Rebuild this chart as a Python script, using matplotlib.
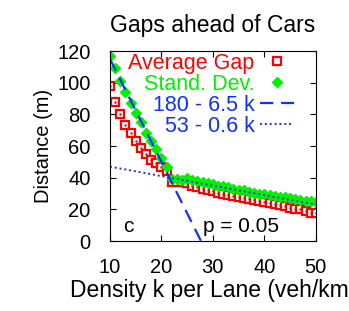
import numpy as np
import matplotlib
matplotlib.use("Agg")
import matplotlib.pyplot as plt

plt.rcParams['font.family'] = ['Liberation Sans', 'DejaVu Sans']

# density k per lane (veh/km)
density = np.arange(10, 51)

avg_gap = [98, 88, 80, 73, 68, 63, 59, 55, 51, 49, 47, 44, 37,
           37, 37, 36.5, 35, 34, 33, 32.5, 31.5, 30.5, 30, 29, 28.5,
           28, 27, 26.5, 26, 25, 24.5, 24, 23.5, 22.5, 22, 21, 20.5,
           20, 19, 18, 17.5]

std_dev = [117, 109, 101, 94, 87, 81, 75, 68.5, 63, 58, 52.5, 47, 39,
           39, 38.5, 39.5, 38.5, 38, 37, 36.5, 36, 35, 34.5, 34, 33,
           32.5, 32, 31, 30.5, 30, 29.5, 29, 28.5, 28, 27.5, 27, 26.5,
           26, 25.5, 25, 24.5]

# fitted lines
fit_hi = (180, 6.5)
fit_lo = (53, 0.6)

fig = plt.figure(figsize=(3.49, 3.11), dpi=100)
ax = fig.add_axes([0.315, 0.225, 0.59, 0.611])

ax.plot(density, avg_gap, ls='none', marker='s', ms=6, mfc='white',
        mec='red', mew=1.6, label='Average Gap')
ax.plot(density, avg_gap, ls='none', marker='.', ms=1.5, color='red')
ax.plot(density, std_dev, ls='none', marker='D', ms=5, color='#00f000',
        mec='#00f000', label='Stand. Dev.')

kk = np.linspace(10, 50, 200)
ax.plot(kk, fit_hi[0] - fit_hi[1] * kk, color='#1030ff', lw=1.6,
        dashes=(6, 3.5), label='180 - 6.5 k')
ax.plot(kk, fit_lo[0] - fit_lo[1] * kk, color='#1030ff', lw=1.4,
        dashes=(1, 1.5), label='53 - 0.6 k')

ax.set_xlim(10, 50)
ax.set_ylim(0, 120)
ax.set_xticks([10, 20, 30, 40, 50])
ax.set_yticks(np.arange(0, 121, 20))
ax.tick_params(direction='in', top=True, right=True, length=4,
               labelsize=14.5)
ax.tick_params(axis='x', pad=12)
ax.tick_params(axis='y', pad=14)

ax.set_title('Gaps ahead of Cars', fontsize=16.5, pad=14)
ax.set_xlabel('Density k per Lane (veh/km)', fontsize=16.5, labelpad=2)
ax.set_ylabel('Distance (m)', fontsize=14.5, labelpad=3)

ax.text(13.5, 9, 'c', fontsize=15, ha='center', va='center')
ax.text(35.5, 9, 'p = 0.05', fontsize=15, ha='center', va='center')

leg = ax.legend(loc='upper right', bbox_to_anchor=(0.895, 0.99),
                frameon=False, markerfirst=False, numpoints=1,
                fontsize=15.5, handlelength=1.6, handletextpad=0.25,
                labelspacing=0.0, borderpad=0, borderaxespad=0)
for txt, line in zip(leg.get_texts(), leg.get_lines()):
    txt.set_color(line.get_color() if line.get_linestyle() != 'None'
                  else line.get_markeredgecolor())

fig.savefig('out.png', dpi=100)
